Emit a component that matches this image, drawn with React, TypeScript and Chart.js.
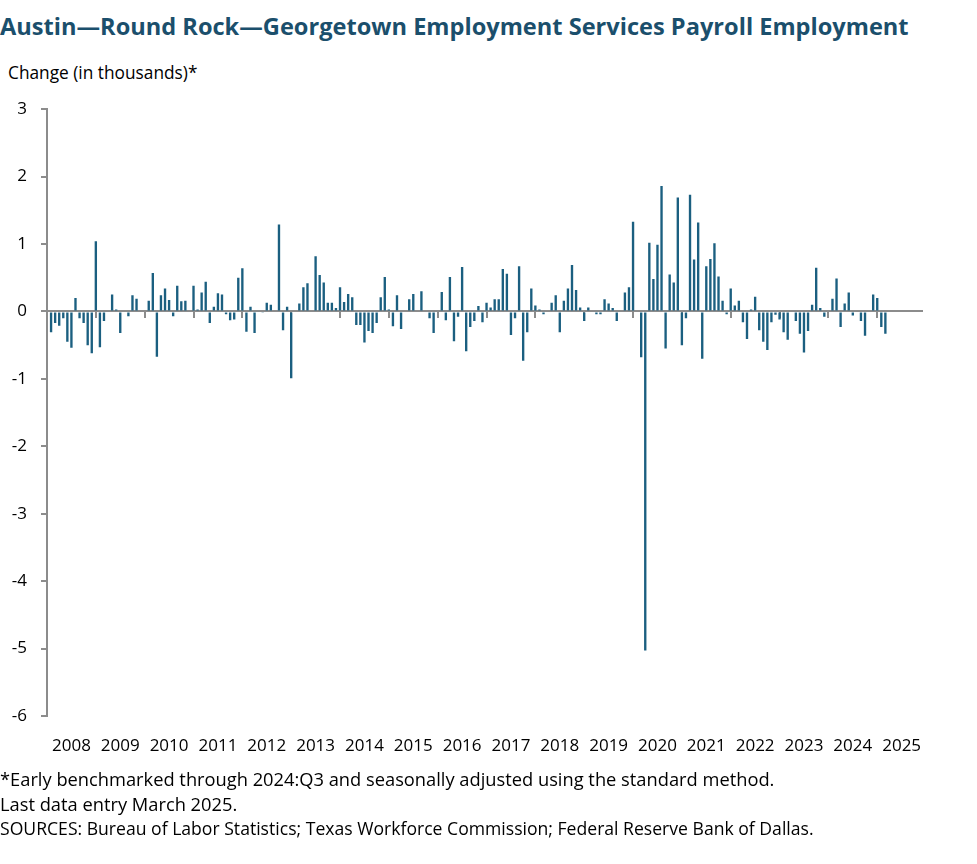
import { useEffect, useRef } from "react";
import Chart from "chart.js/auto";

// monthly change, thousands (Jan 2008 has no bar)
const v2008 = [null, -0.31, -0.17, -0.21, -0.1, -0.45, -0.54, 0.2, -0.1, -0.17, -0.5, -0.62];
const v2009 = [1.04, -0.53, -0.14, 0, 0.25, 0.03, -0.32, 0, -0.07, 0.24, 0.19, 0];
const v2010 = [0, 0.16, 0.57, -0.67, 0.24, 0.34, 0.17, -0.07, 0.38, 0.15, 0.16, 0];
const v2011 = [0.38, 0.03, 0.28, 0.44, -0.17, 0.07, 0.27, 0.25, -0.04, -0.13, -0.12, 0.5];
const v2012 = [0.64, -0.3, 0.07, -0.32, 0, -0.02, 0.13, 0.1, 0, 1.29, -0.28, 0.07];
const v2013 = [-0.99, 0, 0.12, 0.36, 0.42, 0, 0.82, 0.54, 0.43, 0.13, 0.13, 0.05];
const v2014 = [0.36, 0.14, 0.26, 0.21, -0.2, -0.2, -0.46, -0.29, -0.32, -0.17, 0.21, 0.51];
const v2015 = [0.03, -0.22, 0.24, -0.26, 0, 0.18, 0.26, 0, 0.3, 0, -0.1, -0.32];
const v2016 = [0, 0.29, -0.13, 0.51, -0.44, -0.08, 0.66, -0.59, -0.23, -0.14, 0.08, -0.16];
const v2017 = [0.13, 0.06, 0.18, 0.18, 0.63, 0.56, -0.35, -0.1, 0.67, -0.73, -0.31, 0.34];
const v2018 = [0.09, 0.03, -0.04, 0, 0.13, 0.24, -0.31, 0.16, 0.34, 0.69, 0.32, 0.06];
const v2019 = [-0.14, 0.06, 0, -0.04, -0.04, 0.18, 0.12, 0.05, -0.14, 0, 0.28, 0.36];
const v2020 = [1.33, 0, -0.68, -5.03, 1.02, 0.48, 0.99, 1.86, -0.55, 0.55, 0.43, 1.69];
const v2021 = [-0.5, -0.1, 1.73, 0.77, 1.32, -0.7, 0.67, 0.78, 1.01, 0.52, 0.16, -0.04];
const v2022 = [0.34, 0.09, 0.16, -0.16, -0.41, 0.03, 0.22, -0.28, -0.45, -0.57, -0.16, -0.05];
const v2023 = [-0.12, -0.31, -0.42, 0, -0.14, -0.33, -0.61, -0.29, 0.1, 0.65, 0.05, -0.08];
const v2024 = [0, 0.19, 0.49, -0.23, 0.12, 0.28, -0.06, 0, -0.14, -0.36, 0, 0.25];
const v2025 = [0.2, -0.23, -0.33];

const years = ["2008", "2009", "2010", "2011", "2012", "2013", "2014", "2015", "2016",
  "2017", "2018", "2019", "2020", "2021", "2022", "2023", "2024", "2025"];
const yTicks = [3, 2, 1, 0, -1, -2, -3, -4, -5, -6];

const values = [
  ...v2008, ...v2009, ...v2010, ...v2011, ...v2012, ...v2013, ...v2014, ...v2015, ...v2016,
  ...v2017, ...v2018, ...v2019, ...v2020, ...v2021, ...v2022, ...v2023, ...v2024, ...v2025,
];

// one slot per month, Jan 2008 .. Dec 2025
const labels = [];
years.forEach((yr) => {
  for (let m = 1; m <= 12; m++) labels.push(yr + "-" + String(m).padStart(2, "0"));
});
const data = labels.map((_, i) => (i < values.length ? values[i] : null));

const FONT = "'Open Sans', 'Liberation Sans', sans-serif";
const GRAY = "#8c8c8c";
const BAR = "#1b5f80";

export default function App() {
  const ref = useRef(null);

  useEffect(() => {
    const chart = new Chart(ref.current, {
      type: "bar",
      data: {
        labels: labels,
        datasets: [
          {
            data: data,
            backgroundColor: BAR,
            barPercentage: 0.58,
            categoryPercentage: 1,
          },
        ],
      },
      options: {
        animation: false,
        responsive: false,
        layout: { padding: { top: 13, right: 55, left: 0, bottom: 0 } },
        plugins: { legend: { display: false }, tooltip: { enabled: false } },
        scales: {
          x: {
            type: "category",
            offset: false,
            grid: { display: false, offset: false },
            border: { display: false },
            ticks: {
              autoSkip: false,
              maxRotation: 0,
              minRotation: 0,
              padding: 12,
              color: "#000",
              font: { family: FONT, size: 17 },
              callback: (v, i) => (i % 12 === 6 ? years[Math.floor(i / 12)] : ""),
            },
            afterFit: (s) => {
              s.height = 54;
            },
          },
          x0: {
            type: "category",
            position: { y: 0 },
            offset: false,
            z: 1,
            ticks: { display: false, autoSkip: false },
            border: { color: GRAY, width: 2 },
            grid: {
              offset: false,
              drawOnChartArea: false,
              tickLength: 6,
              lineWidth: 2,
              color: (ctx) => (ctx.index % 12 === 0 ? GRAY : "rgba(0,0,0,0)"),
            },
          },
          y: {
            min: yTicks[yTicks.length - 1],
            max: yTicks[0],
            z: 1,
            border: { color: GRAY, width: 2 },
            grid: { drawOnChartArea: false, tickLength: 6, lineWidth: 2, color: GRAY },
            ticks: {
              stepSize: 1,
              padding: 14,
              color: "#000",
              font: { family: FONT, size: 17 },
            },
            afterFit: (s) => {
              s.width = 47;
            },
          },
        },
      },
    });
    return () => chart.destroy();
  }, []);

  return (
    <div
      style={{
        position: "absolute",
        left: 0,
        top: 0,
        width: 977,
        height: 864,
        background: "#fff",
        fontFamily: FONT,
        color: "#000",
      }}
    >
      <div
        style={{
          position: "absolute",
          left: 0,
          top: 10,
          fontSize: 23.6,
          lineHeight: "32px",
          fontWeight: 700,
          color: "#1b4f6c",
          whiteSpace: "nowrap",
        }}
      >
        Austin—Round Rock—Georgetown Employment Services Payroll Employment
      </div>
      <div style={{ position: "absolute", left: 8, top: 62, fontSize: 17.3, lineHeight: "22px" }}>
        Change (in thousands)*
      </div>
      <div style={{ position: "absolute", left: 0, top: 85, width: 977, height: 685 }}>
        <canvas ref={ref} width={977} height={685} style={{ width: 977, height: 685 }}></canvas>
      </div>
      <div
        style={{
          position: "absolute",
          left: 0,
          top: 766,
          lineHeight: "25px",
          whiteSpace: "nowrap",
        }}
      >
        <div style={{ fontSize: 18.3 }}>
          *Early benchmarked through 2024:Q3 and seasonally adjusted using the standard method.
        </div>
        <div style={{ fontSize: 18.3 }}>Last data entry March 2025.</div>
        <div style={{ fontSize: 17.6 }}>
          SOURCES: Bureau of Labor Statistics; Texas Workforce Commission; Federal Reserve Bank of Dallas.
        </div>
      </div>
    </div>
  );
}
